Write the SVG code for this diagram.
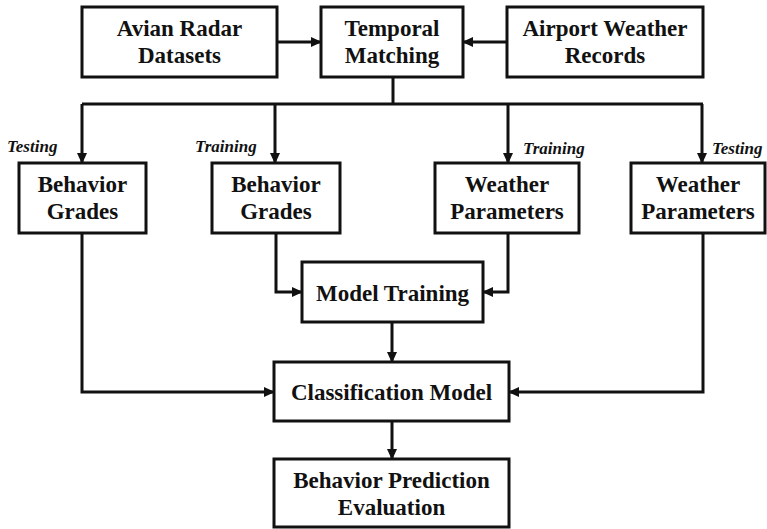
<svg xmlns="http://www.w3.org/2000/svg" width="767" height="529" viewBox="0 0 767 529">
  <style>
    .box { fill: #ffffff; stroke: #111111; stroke-width: 3; }
    .lbl { font-family: "Liberation Serif", "Times New Roman", serif; font-weight: bold; font-size: 23px; fill: #111111; text-anchor: middle; }
    .tag { font-family: "Liberation Serif", "Times New Roman", serif; font-weight: bold; font-style: italic; font-size: 17px; fill: #111111; }
    .wire { fill: none; stroke: #111111; stroke-width: 3; }
    .arrow { fill: none; stroke: #111111; stroke-width: 3; marker-end: url(#head); }
  </style>
  <defs>
    <marker id="head" markerUnits="userSpaceOnUse" markerWidth="11" markerHeight="10" refX="10" refY="5" orient="auto">
      <path d="M0,0 L11,5 L0,10 Z" fill="#111111"/>
    </marker>
  </defs>
  <rect width="767" height="529" fill="#ffffff"/>

  <g id="connectors">
    <line class="arrow" x1="277" y1="42" x2="321" y2="42"/>
    <line class="arrow" x1="507" y1="42" x2="463" y2="42"/>
    <line class="wire" x1="393" y1="77" x2="393" y2="104"/>
    <line class="wire" x1="82" y1="104" x2="703" y2="104"/>
    <line class="arrow" x1="82" y1="104" x2="82" y2="163"/>
    <line class="arrow" x1="275" y1="104" x2="275" y2="163"/>
    <line class="arrow" x1="508" y1="104" x2="508" y2="163"/>
    <line class="arrow" x1="702" y1="104" x2="702" y2="163"/>
    <polyline class="arrow" points="276,233 276,292 302,292"/>
    <polyline class="arrow" points="508,233 508,292 483,292"/>
    <line class="arrow" x1="392" y1="322" x2="392" y2="362"/>
    <polyline class="arrow" points="82,233 82,392 274,392"/>
    <polyline class="arrow" points="703,233 703,392 509,392"/>
    <line class="arrow" x1="392" y1="421" x2="392" y2="459"/>
  </g>

  <g id="avian-radar">
    <rect class="box" x="82" y="7" width="195" height="70"/>
    <text class="lbl" x="179.5" y="36">Avian Radar</text>
    <text class="lbl" x="179.5" y="63">Datasets</text>
  </g>
  <g id="temporal-matching">
    <rect class="box" x="321" y="7" width="142" height="70"/>
    <text class="lbl" x="392" y="36">Temporal</text>
    <text class="lbl" x="392" y="63">Matching</text>
  </g>
  <g id="airport-weather">
    <rect class="box" x="507" y="7" width="196" height="70"/>
    <text class="lbl" x="605" y="36">Airport Weather</text>
    <text class="lbl" x="605" y="63">Records</text>
  </g>

  <g id="grades-testing">
    <rect class="box" x="19" y="163" width="127" height="70"/>
    <text class="lbl" x="82.5" y="192">Behavior</text>
    <text class="lbl" x="82.5" y="219">Grades</text>
    <text class="tag" x="7" y="152">Testing</text>
  </g>
  <g id="grades-training">
    <rect class="box" x="212" y="163" width="128" height="70"/>
    <text class="lbl" x="276" y="192">Behavior</text>
    <text class="lbl" x="276" y="219">Grades</text>
    <text class="tag" x="195" y="152">Training</text>
  </g>
  <g id="weather-training">
    <rect class="box" x="435" y="163" width="144" height="70"/>
    <text class="lbl" x="507" y="192">Weather</text>
    <text class="lbl" x="507" y="219">Parameters</text>
    <text class="tag" x="523" y="154">Training</text>
  </g>
  <g id="weather-testing">
    <rect class="box" x="631" y="163" width="134" height="70"/>
    <text class="lbl" x="698" y="192">Weather</text>
    <text class="lbl" x="698" y="219">Parameters</text>
    <text class="tag" x="712" y="154">Testing</text>
  </g>

  <g id="model-training">
    <rect class="box" x="302" y="262" width="181" height="60"/>
    <text class="lbl" x="392.5" y="301">Model Training</text>
  </g>
  <g id="classification-model">
    <rect class="box" x="274" y="362" width="235" height="59"/>
    <text class="lbl" x="391.5" y="400">Classification Model</text>
  </g>
  <g id="prediction-evaluation">
    <rect class="box" x="274" y="459" width="235" height="68"/>
    <text class="lbl" x="391.5" y="488">Behavior Prediction</text>
    <text class="lbl" x="391.5" y="515">Evaluation</text>
  </g>
</svg>
